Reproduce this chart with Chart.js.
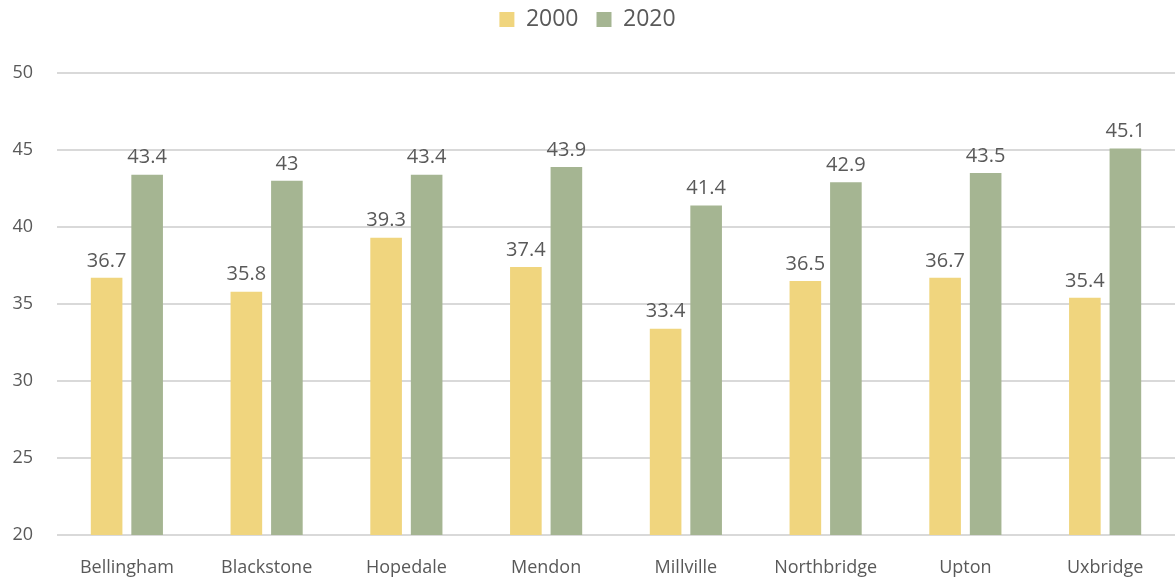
<!DOCTYPE html>
<html>
<head>
<meta charset="utf-8">
<script src="https://cdn.jsdelivr.net/npm/chart.js@4"></script>
<style>
  html, body { margin: 0; padding: 0; background: #fff; }
  #wrap { width: 1175px; height: 577px; }
</style>
</head>
<body>
<div id="wrap"><canvas id="ageChart"></canvas></div>
<script>
// Median age by town
const towns = ['Bellingham', 'Blackstone', 'Hopedale', 'Mendon', 'Millville', 'Northbridge', 'Upton', 'Uxbridge'];
const age2000 = [36.7, 35.8, 39.3, 37.4, 33.4, 36.5, 36.7, 35.4];
const age2020 = [43.4, 43, 43.4, 43.9, 41.4, 42.9, 43.5, 45.1];
const yTicks = [20, 25, 30, 35, 40, 45, 50];

const textColor = '#595959';
const fontFamily = '"Open Sans", "Noto Sans", sans-serif';

// writes each bar's value just above it
const barLabels = {
    id: 'barLabels',
    afterDatasetsDraw(chart) {
        const ctx = chart.ctx;
        ctx.save();
        ctx.fillStyle = textColor;
        ctx.font = '20px ' + fontFamily;
        ctx.textAlign = 'center';
        ctx.textBaseline = 'bottom';
        chart.data.datasets.forEach((ds, i) => {
            chart.getDatasetMeta(i).data.forEach((bar, j) => {
                ctx.fillText(String(ds.data[j]), bar.x, bar.y - 7);
            });
        });
        ctx.restore();
    }
};

// extra room under the legend, legend itself sits higher
const legendGap = {
    id: 'legendGap',
    beforeInit(chart) {
        const fit = chart.legend.fit;
        chart.legend.fit = function () {
            fit.call(this);
            this.height += 22;
        };
    },
    afterLayout(chart) {
        chart.legend.top -= 10;
        chart.legend.bottom -= 10;
    }
};

const ctx = document.getElementById('ageChart').getContext('2d');
new Chart(ctx, {
    type: 'bar',
    data: {
        labels: towns,
        datasets: [{
            label: '2000',
            data: age2000,
            backgroundColor: '#F0D57E',
            categoryPercentage: 0.58,
            barPercentage: 0.78
        }, {
            label: '2020',
            data: age2020,
            backgroundColor: '#A5B592',
            categoryPercentage: 0.58,
            barPercentage: 0.78
        }]
    },
    options: {
        responsive: true,
        maintainAspectRatio: false,
        animation: false,
        layout: { padding: 0 },
        plugins: {
            tooltip: { enabled: false },
            legend: {
                position: 'top',
                labels: {
                    color: textColor,
                    font: { family: fontFamily, size: 23 },
                    boxWidth: 15,
                    boxHeight: 15,
                    padding: 18
                }
            }
        },
        scales: {
            x: {
                grid: { display: false },
                border: { display: false },
                afterFit(scale) { scale.height = 42; },
                ticks: {
                    color: textColor,
                    font: { family: fontFamily, size: 18 },
                    padding: 14
                }
            },
            y: {
                min: 20,
                max: 50,
                afterBuildTicks(scale) {
                    scale.ticks = yTicks.map(v => ({ value: v }));
                },
                afterFit(scale) { scale.width = 57; },
                grid: { color: '#D9D9D9', lineWidth: 2, drawTicks: false },
                border: { display: false },
                ticks: {
                    color: textColor,
                    font: { family: fontFamily, size: 18 },
                    padding: 24
                }
            }
        }
    },
    plugins: [barLabels, legendGap]
});
</script>
</body>
</html>
